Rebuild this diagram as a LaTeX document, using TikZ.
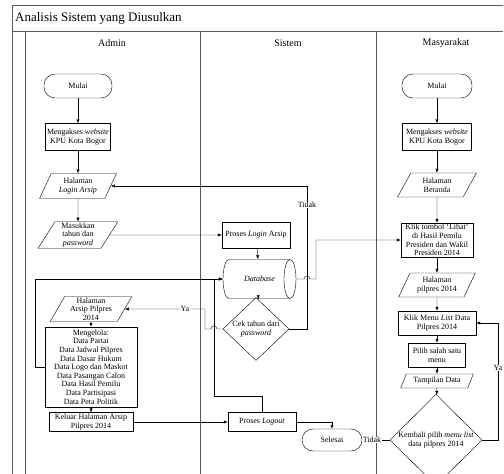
\documentclass[tikz,border=0pt]{standalone}
\usepackage{fontspec}
\setmainfont{Liberation Serif}
\usetikzlibrary{shapes.geometric,arrows.meta}

\begin{document}
\begin{tikzpicture}[x=1pt,y=-1pt,
    every node/.style={font=\fontsize{8}{8.6}\selectfont, align=center, inner sep=1pt},
    terminal/.style={draw, rectangle, rounded corners=11pt, minimum width=68, minimum height=24},
    prosesbox/.style={draw, rectangle},
    datain/.style={draw, trapezium, trapezium left angle=64, trapezium right angle=116,
        trapezium stretches=true, minimum width=77, minimum height=25},
    decision/.style={draw, diamond, inner sep=0pt},
    lane/.style={draw=gray!70!black, line width=1pt},
    arr/.style={-{Latex[length=4pt,width=3.2pt]}},
    lbl/.style={fill=white, inner sep=0.6pt}]
    \useasboundingbox (0,0) rectangle (504,474);
    \draw[lane] (12,474) -- (12,5) -- (503,5);
    \draw[lane] (12,31) -- (503,31);
    \draw[lane] (25,31) -- (25,474);
    \draw[lane] (200,31) -- (200,474);
    \draw[lane] (376,31) -- (376,474);
    \node[anchor=west, font=\fontsize{13}{15}\selectfont] (judul) at (14,18) {Analisis Sistem yang Diusulkan};
    \node[font=\fontsize{10}{12}\selectfont] (hadmin) at (112,43) {Admin};
    \node[font=\fontsize{10}{12}\selectfont] (hsistem) at (288,43) {Sistem};
    \node[font=\fontsize{10}{12}\selectfont] (hmasy) at (446,43) {Masyarakat};
    % admin
    \node[terminal] (mulaiA) at (78,86) {Mulai};
    \node[prosesbox, minimum width=65, minimum height=27] (aksesA) at (78,137) {Mengakses \textit{website}\\KPU Kota Bogor};
    \node[datain] (halLogin) at (78,186) {Halaman\\\textit{Login Arsip}};
    \node[datain, minimum width=80, minimum height=26] (masuk) at (78,235) {Masukkan\\tahun dan\\\textit{password}};
    \node[datain, minimum width=82] (halArsip) at (91,309) {Halaman\\Arsip Pilpres\\2014};
    \node[prosesbox, minimum width=92, minimum height=80] (kelola) at (91,367) {Mengelola:\\Data Partai\\Data Jadwal Pilpres\\Data Dasar Hukum\\Data Logo dan Maskot\\Data Pasangan Calon\\Data Hasil Pemilu\\Data Partisipasi\\Data Peta Politik};
    \node[prosesbox, minimum width=84, minimum height=19] (keluar) at (91,422) {Keluar Halaman Arsip\\Pilpres 2014};
    % sistem
    \node[prosesbox, minimum width=68, minimum height=26] (pLogin) at (256,235) {Proses \textit{Login} Arsip};
    \node[minimum width=73, minimum height=39] (db) at (259.5,279) {\textit{Database}};
    \draw (229,259.5) -- (290,259.5) (290,298.5) -- (229,298.5) arc (270:90:6pt and 19.5pt);
    \draw (290,279) ellipse (6pt and 19.5pt);
    \node[decision, minimum width=66, minimum height=36] (cek) at (256,329) {Cek tahun dari\\\textit{password}};
    \node[prosesbox, minimum width=68, minimum height=19] (pLogout) at (262,422) {Proses \textit{Logout}};
    \node[terminal, minimum width=60, minimum height=22] (selesai) at (332,440) {Selesai};
    % masyarakat
    \node[terminal, minimum width=70] (mulaiM) at (437,86) {Mulai};
    \node[prosesbox, minimum width=69, minimum height=27] (aksesM) at (437,137) {Mengakses \textit{website}\\KPU Kota Bogor};
    \node[datain, minimum width=79, minimum height=24] (beranda) at (437,185) {Halaman\\Beranda};
    \node[prosesbox, minimum width=72, minimum height=34] (lihat) at (437,240) {Klik tombol `Lihat'\\di Hasil Pemilu\\Presiden dan Wakil\\Presiden 2014};
    \node[datain, minimum width=77, minimum height=24] (halPilpres) at (437,285) {Halaman\\pilpres 2014};
    \node[prosesbox, minimum width=78, minimum height=24] (menu) at (437,323) {Klik Menu \textit{List} Data\\Pilpres 2014};
    \node[prosesbox, minimum width=57, minimum height=24] (pilih) at (437,355) {Pilih salah satu\\menu};
    \node[datain, minimum width=73, minimum height=14] (tampil) at (437,381) {Tampilan Data};
    \node[decision, minimum width=92, minimum height=58] (kembali) at (436,440) {Kembali pilih \textit{menu list}\\data pilpres 2014};
    % alur
    \draw[arr] (mulaiA) -- (aksesA);
    \draw[arr] (aksesA) -- (halLogin);
    \draw[arr] (halLogin) -- (masuk);
    \draw[arr] (halArsip) -- (kelola);
    \draw[arr] (kelola) -- (keluar);
    \draw[arr] (masuk.east) -- (pLogin.west);
    \draw[arr] (pLogin) -- (db);
    \draw[arr] (db) -- (cek);
    \draw[arr] (keluar.east) -- (pLogout.west);
    \draw[arr] (pLogout.east) -| (selesai.north);
    \draw[arr] (pLogout.north) -- ++(0,-16) -| (214,279) -- (db.west);
    \draw[arr] (kelola.west) -- (35,367) |- (db.west);
    \draw[arr] (cek.west) -- (217,329) arc (0:180:3pt) -- (205,329) |- (halArsip.east);
    \node[lbl] (ya1) at (185,309) {Ya};
    \draw[arr] (cek.east) -- (307,329) |- (halLogin.east);
    \node[lbl] (tidak1) at (307,205) {Tidak};
    \draw[arr] (db.east) -- (304,279) arc (180:0:3pt) -- (316,279) |- (lihat.west);
    \draw[arr] (mulaiM) -- (aksesM);
    \draw[arr] (aksesM) -- (beranda);
    \draw[arr] (beranda) -- (lihat);
    \draw[arr] (lihat) -- (halPilpres);
    \draw[arr] (halPilpres) -- (menu);
    \draw[arr] (menu) -- (pilih);
    \draw[arr] (pilih) -- (tampil);
    \draw[arr] (tampil) -- (kembali);
    \draw[arr] (kembali.west) -- (selesai.east);
    \node[lbl] (tidak2) at (372,440) {Tidak};
    \draw[arr] (kembali.east) -- (498,440) |- (menu.east);
    \node[lbl] (ya2) at (498,368) {Ya};
\end{tikzpicture}
\end{document}
